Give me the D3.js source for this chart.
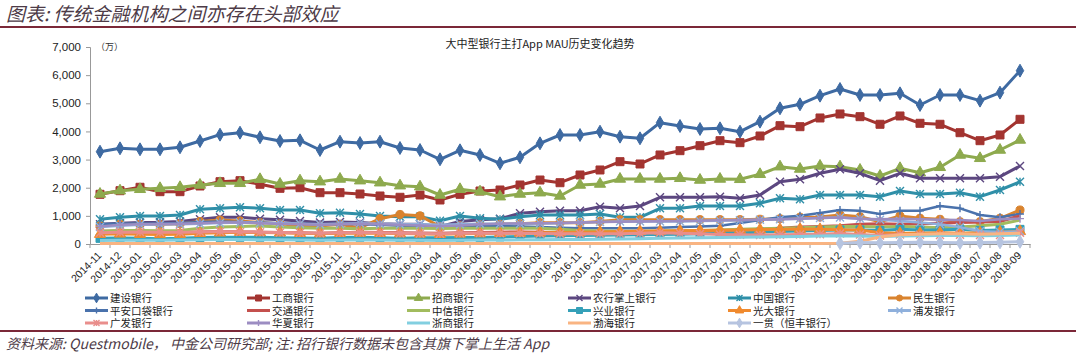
<!DOCTYPE html>
<html><head><meta charset="utf-8">
<script src="https://cdn.jsdelivr.net/npm/d3@7"></script>
<style>
body{margin:0;background:#fff;}
svg{display:block;}
</style></head>
<body>
<svg id="chart" width="1080" height="357"></svg>
<script>
const months = ["2014-11","2014-12","2015-01","2015-02","2015-03","2015-04","2015-05","2015-06","2015-07","2015-08","2015-09","2015-10","2015-11","2015-12","2016-01","2016-02","2016-03","2016-04","2016-05","2016-06","2016-07","2016-08","2016-09","2016-10","2016-11","2016-12","2017-01","2017-02","2017-03","2017-04","2017-05","2017-06","2017-07","2017-08","2017-09","2017-10","2017-11","2017-12","2018-01","2018-02","2018-03","2018-04","2018-05","2018-06","2018-07","2018-08","2018-09"];
const yTicks = [0,1000,2000,3000,4000,5000,6000,7000];

const ccb = [3280,3400,3365,3365,3436,3660,3884,3955,3792,3660,3685,3340,3635,3589,3635,3411,3340,3010,3330,3163,2868,3081,3578,3873,3873,3991,3813,3756,4311,4193,4087,4111,3991,4347,4822,4964,5270,5508,5295,5295,5355,4940,5295,5295,5093,5378,6159];
const icbc = [1766,1894,2015,1859,1859,2061,2214,2250,2122,1979,2001,1823,1823,1777,1706,1660,1741,1564,1766,1883,1919,2097,2274,2178,2452,2630,2925,2843,3163,3316,3493,3671,3600,3838,4204,4168,4478,4620,4524,4254,4549,4289,4254,3955,3671,3874,4431];
const cmb = [1777,1894,1944,1979,2015,2097,2157,2157,2299,2132,2250,2214,2310,2250,2178,2072,2036,1741,1944,1859,1681,1777,1823,1706,2097,2132,2310,2310,2310,2335,2274,2310,2299,2477,2747,2665,2772,2747,2630,2416,2690,2534,2725,3163,3045,3340,3696];
const abc = [700,740,760,770,800,880,950,950,900,860,820,760,780,760,720,700,700,620,800,860,900,1090,1148,1184,1184,1326,1267,1350,1658,1658,1658,1682,1623,1741,2214,2299,2512,2655,2512,2250,2512,2335,2335,2335,2335,2392,2772];
const boc = [877,949,995,995,1031,1233,1269,1304,1269,1208,1208,1090,1112,1066,995,970,970,828,995,913,877,970,1031,1031,1031,1066,949,949,1269,1269,1350,1350,1350,1446,1624,1588,1741,1741,1741,1682,1883,1777,1777,1823,1682,1919,2214];
const cmbc = [640,700,700,690,720,800,850,820,760,720,650,640,700,570,900,1050,1000,620,650,680,700,720,758,758,758,800,865,865,865,865,865,865,865,880,900,950,960,1031,970,793,995,913,877,793,793,913,1208];
const pingan = [700,730,730,730,750,780,800,780,760,740,720,700,720,700,680,650,640,600,620,650,640,620,600,580,560,560,560,560,580,600,620,650,750,850,950,1000,1100,1208,1184,1066,1184,1184,1350,1267,1031,949,1066];
const bocom = [450,460,440,430,420,430,440,430,420,410,400,380,400,420,410,400,390,380,400,410,420,430,420,410,400,400,400,420,440,450,460,480,500,520,560,600,620,650,700,720,700,720,740,760,780,800,1000];
const citic = [450,480,480,470,480,560,600,620,640,600,580,560,560,540,560,560,560,550,560,560,560,560,560,520,480,460,450,450,460,470,480,500,520,540,560,580,600,620,620,600,620,600,580,600,650,700,850];
const cib = [200,210,200,190,200,230,240,240,240,220,210,200,230,240,220,200,220,220,230,230,250,270,280,290,300,310,320,330,340,350,360,380,400,420,440,460,480,500,500,480,520,500,500,520,480,500,520];
const ceb = [350,360,350,340,350,380,400,420,410,400,380,370,380,390,380,370,360,350,360,370,380,390,400,410,420,430,440,450,460,470,480,490,500,510,520,530,520,510,500,400,380,380,400,380,400,420,450];
const spdb = [600,650,680,690,700,720,750,760,750,740,720,700,720,740,720,700,700,680,700,720,720,720,730,740,760,780,800,800,800,800,820,830,840,860,880,900,920,940,900,860,820,760,700,600,450,430,450];
const cgb = [400,420,430,420,420,430,440,430,420,410,400,380,400,410,400,380,370,360,380,390,380,380,370,360,360,360,360,380,400,380,360,340,330,320,330,340,350,370,340,300,340,330,320,330,320,320,400];
const hxb = [620,680,700,710,720,740,760,760,740,720,700,680,700,720,700,680,660,640,660,700,720,730,740,750,760,780,790,800,810,820,830,840,850,860,880,900,920,940,900,880,900,880,860,850,820,880,900];
const czb = [120,130,130,130,140,150,160,160,150,150,140,130,140,150,140,130,130,120,130,140,140,150,150,160,160,170,180,190,200,210,220,230,240,250,260,270,280,290,280,270,280,290,300,300,290,300,320];
const cbhb = [20,20,20,20,20,20,20,20,20,20,20,20,20,20,20,20,20,20,20,20,20,20,20,20,20,20,20,20,20,20,20,20,20,20,20,20,20,30,100,250,330,350,360,360,350,360,380];
const yiguan = [null,null,null,null,null,null,null,null,null,null,null,null,null,null,null,null,null,null,null,null,null,null,null,null,null,null,null,null,null,null,null,null,null,null,null,null,null,30,50,40,50,60,50,40,50,60,80];

const seriesNames = ["建设银行","工商银行","招商银行","农行掌上银行","中国银行","民生银行","平安口袋银行","交通银行","中信银行","兴业银行","光大银行","浦发银行","广发银行","华夏银行","浙商银行","渤海银行","一贯（恒丰银行）"];
const seriesValues = [ccb,icbc,cmb,abc,boc,cmbc,pingan,bocom,citic,cib,ceb,spdb,cgb,hxb,czb,cbhb,yiguan];

// styles
const colors = ["#3E6AA2","#A33430","#8EAA4E","#5C4780","#2F8FA8","#D9832E","#4A72AC","#C4504D","#A2BC5E","#35A0B8","#F08A2E","#8FB0DC","#E98E8C","#9C8DC2","#82CFE0","#F9B482","#B6C4E0"];
const markers = ["diamond","square","triangle","x","star","circle","plus","none","none","square","triangle","x","star","plus","none","none","diamond"];
const widths = [3,3,3,3,3,3,2.5,3,3,3,3,2.5,3,2.5,3,3,3];

const svg = d3.select("#chart");

// header
svg.append("text").attr("x",6).attr("y",21)
  .attr("font-family","'Noto Sans CJK SC'").attr("font-size",19).attr("font-style","italic")
  .attr("fill","#4d3b47").text("图表: 传统金融机构之间亦存在头部效应");
svg.append("line").attr("x1",0).attr("x2",1076).attr("y1",27).attr("y2",27)
  .attr("stroke","#7B2838").attr("stroke-width",2);
svg.append("line").attr("x1",0).attr("x2",1076).attr("y1",331).attr("y2",331)
  .attr("stroke","#7B2838").attr("stroke-width",2);
svg.append("text").attr("x",6).attr("y",349)
  .attr("font-family","'Noto Sans CJK SC'").attr("font-size",14).attr("font-style","italic")
  .attr("fill","#4d3b47").text("资料来源: Questmobile， 中金公司研究部; 注: 招行银行数据未包含其旗下掌上生活 App");

// chart title
svg.append("text").attr("x",540).attr("y",48).attr("text-anchor","middle")
  .attr("font-family","'Noto Sans CJK SC'").attr("font-size",11).attr("fill","#222")
  .text("大中型银行主打App MAU历史变化趋势");
svg.append("text").attr("x",96).attr("y",50)
  .attr("font-family","'Noto Sans CJK SC'").attr("font-size",9).attr("fill","#333")
  .text("（万）");

// scales
const x = d3.scaleBand().domain(months).range([90,1030]).padding(0);
const cx = d => x(d) + x.bandwidth()/2;
const y = d3.scaleLinear().domain([0,7000]).range([244,47]);

// y axis
const yAxis = d3.axisLeft(y).tickValues(yTicks).tickSize(4).tickFormat(d3.format(","));
const gy = svg.append("g").attr("transform","translate(90,0)").call(yAxis);
gy.select(".domain").attr("stroke","#999").attr("stroke-width",1);
gy.selectAll(".tick line").attr("stroke","#999");
gy.selectAll(".tick text").attr("font-family","'Liberation Sans',Arial").attr("font-size",11.5).attr("fill","#222").attr("x",-9);

// x axis
const xAxis = d3.axisBottom(x).tickSize(0).tickSizeOuter(0);
const gx = svg.append("g").attr("transform","translate(0,244)").call(xAxis);
gx.select(".domain").attr("stroke","#999");
gx.selectAll(".tick text")
  .attr("font-family","'Liberation Sans',Arial").attr("font-size",10.5).attr("fill","#222")
  .attr("text-anchor","end").attr("dx","0").attr("dy","0")
  .attr("transform","translate(0,10) rotate(-45)");
const bounds = months.map(m => x(m)).concat([x(months[months.length-1]) + x.bandwidth()]);
gx.selectAll(".btick").data(bounds).enter().append("line")
  .attr("x1",d=>d).attr("x2",d=>d).attr("y1",0).attr("y2",4).attr("stroke","#999");

// marker paths
function markerPath(type, s) {
  const h = s/2;
  switch(type) {
    case "diamond": return d3.symbol(d3.symbolDiamond, s*s*0.75)();
    case "square": return d3.symbol(d3.symbolSquare, s*s)();
    case "triangle": return d3.symbol(d3.symbolTriangle, s*s*0.85)();
    case "circle": return d3.symbol(d3.symbolCircle, s*s*0.8)();
    case "x": return `M${-h},${-h}L${h},${h}M${-h},${h}L${h},${-h}`;
    case "plus": return `M${-h},0L${h},0M0,${-h}L0,${h}`;
    case "star": return `M${-h},${-h}L${h},${h}M${-h},${h}L${h},${-h}M0,${-h}L0,${h}`;
    default: return "";
  }
}
const strokeOnly = t => t==="x"||t==="plus"||t==="star";

const line = d3.line().defined(d => d.v != null).x(d => cx(d.m)).y(d => y(d.v));
const plot = svg.append("g");
seriesValues.forEach((vals,si) => {
  const data = months.map((m,i) => ({m, v: vals[i]}));
  const g = plot.append("g");
  g.append("path").datum(data).attr("d",line).attr("fill","none")
    .attr("stroke",colors[si]).attr("stroke-width",widths[si]).attr("stroke-linejoin","round");
  const mk = markers[si];
  if (mk !== "none") {
    g.selectAll("path.mk").data(data.filter(d=>d.v!=null)).enter().append("path")
      .attr("class","mk")
      .attr("transform", d => `translate(${cx(d.m)},${y(d.v)})`)
      .attr("d", markerPath(mk, 8))
      .attr("fill", strokeOnly(mk) ? "none" : colors[si])
      .attr("stroke", colors[si]).attr("stroke-width", strokeOnly(mk)?1.4:1);
  }
});

// legend
const colX = [85,247,407,568,728,888];
const rowY = [298,310.5,323];
const legend = svg.append("g");
seriesNames.forEach((name,i) => {
  const cxl = colX[i % 6], cyl = rowY[Math.floor(i/6)];
  const g = legend.append("g").attr("transform",`translate(${cxl},${cyl})`);
  g.append("line").attr("x1",0).attr("x2",23).attr("y1",0).attr("y2",0)
    .attr("stroke",colors[i]).attr("stroke-width",3);
  const mk = markers[i];
  if (mk !== "none") {
    g.append("path").attr("transform","translate(11.5,0)").attr("d",markerPath(mk,6))
      .attr("fill", strokeOnly(mk) ? "none" : colors[i])
      .attr("stroke",colors[i]).attr("stroke-width",strokeOnly(mk)?1.4:1);
  }
  g.append("text").attr("x",25).attr("y",4)
    .attr("font-family","'Liberation Sans','Noto Sans CJK SC'").attr("font-size",10.5).attr("fill","#222")
    .text(name);
});
</script>
</body></html>
